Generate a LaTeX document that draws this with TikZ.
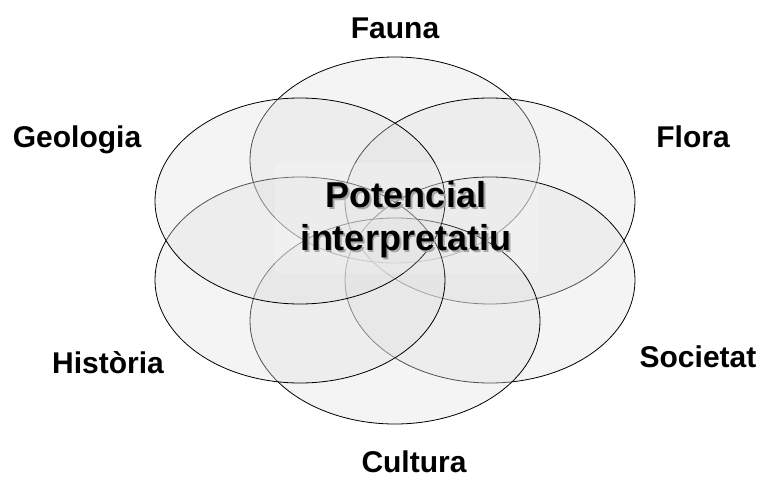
\documentclass[tikz,border=0pt]{standalone}
\usepackage{fontspec}
\setmainfont{Liberation Sans}
\usetikzlibrary{shapes.geometric}
\tikzset{
  petal/.style={ellipse, draw=black, line width=0.8pt, fill=gray!24, fill opacity=0.36,
    minimum width=290pt, minimum height=206pt, inner sep=0pt},
  lab/.style={anchor=base, inner sep=0pt, font=\fontsize{30}{36}\selectfont\bfseries},
  core/.style={anchor=base, inner sep=0pt, font=\fontsize{36}{43}\selectfont\bfseries},
  coreshadow/.style={core, text=black!35},
  panel/.style={draw=none, fill=white, fill opacity=0.18, minimum width=264pt, minimum height=110pt, inner sep=0pt}
}
\begin{document}
\begin{tikzpicture}[x=1pt,y=-1pt]
\useasboundingbox (0,0) rectangle (763,479);
% petals
\node[petal] (fauna e) at (395,160) {};
\node[petal] (flora e) at (490,201) {};
\node[petal] (soc e) at (490,280) {};
\node[petal] (cult e) at (395,321) {};
\node[petal] (hist e) at (300,280) {};
\node[petal] (geo e) at (300,201) {};
% central panel
\node[panel] (panel) at (407,218) {};
% central text with shadow
\node[coreshadow] (pot s) at (408,209) {Potencial};
\node[coreshadow] (int s) at (408,252) {interpretatiu};
\node[core] (pot) at (406,207) {Potencial};
\node[core] (int) at (406,250) {interpretatiu};
% labels
\node[lab] (fauna) at (395,38) {Fauna};
\node[lab] (geo) at (77,147) {Geologia};
\node[lab] (flora) at (693,147) {Flora};
\node[lab] (hist) at (108,373) {Història};
\node[lab] (soc) at (698,367) {Societat};
\node[lab] (cult) at (414,472) {Cultura};
\end{tikzpicture}
\end{document}
